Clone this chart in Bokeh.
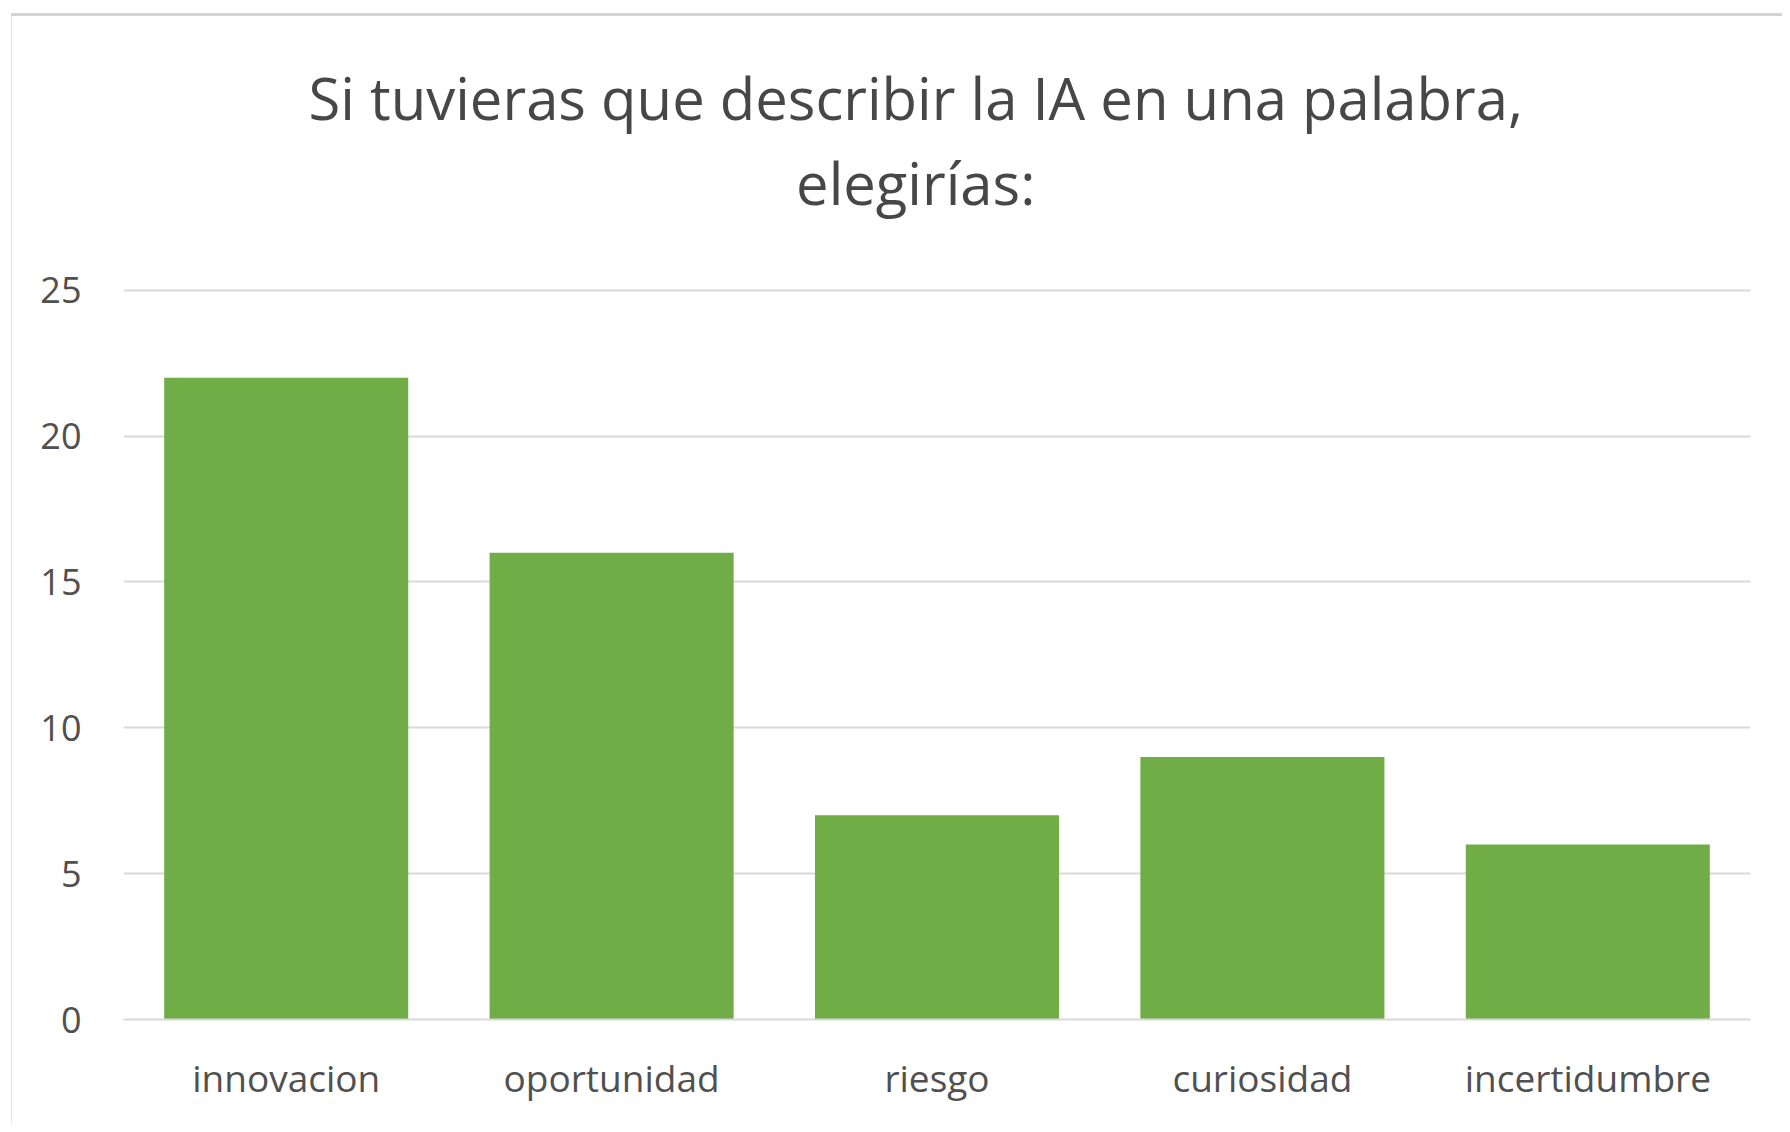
from bokeh.plotting import figure
from bokeh.models import ColumnDataSource, Range1d, FactorRange, Title, SingleIntervalTicker
from bokeh.embed import file_html
from bokeh.resources import INLINE

categories = ["innovacion", "oportunidad", "riesgo", "curiosidad", "incertidumbre"]
values = [22, 16, 7, 9, 6]
title_lines = ["Si tuvieras que describir la IA en una palabra,", "elegirías:"]

FONT = "Open Sans"
TEXT = "#505050"

src = ColumnDataSource(dict(cat=categories, val=values))

p = figure(
    x_range=FactorRange(*categories, range_padding=0),
    y_range=Range1d(0, 25.3),
    width=1771, height=1133,
    output_backend="svg", toolbar_location=None,
    min_border_left=112, min_border_right=32,
    min_border_top=290, min_border_bottom=105,
)
p.outline_line_color = None
p.border_fill_color = None
p.styles = {
    "margin-top": "-9px", "margin-left": "11px",
    "background": ("linear-gradient(#d4d4d4,#d4d4d4) 0 22px / 100% 3px no-repeat, "
                   "linear-gradient(#e2e2e2,#e2e2e2) 0 22px / 1px 100% no-repeat, #ffffff"),
}

p.vbar(x="cat", top="val", width=0.75, source=src, fill_color="#70AD47", line_color=None)

t = Title(text="\n".join(title_lines), align="left", text_align="center",
          text_font=FONT, text_font_size="58px", text_font_style="normal",
          text_color="#474747", text_line_height=1.076, standoff=118, offset=185)
p.add_layout(t, "above")

p.xgrid.grid_line_color = None
p.ygrid.grid_line_color = "#d9d9d9"
p.ygrid.grid_line_width = 2
p.yaxis.ticker = SingleIntervalTicker(interval=5)

p.yaxis.axis_line_color = None
p.yaxis.major_tick_line_color = None
p.yaxis.minor_tick_line_color = None
p.yaxis.major_tick_out = 0
p.yaxis.major_label_standoff = 38
p.yaxis.major_label_text_font = FONT
p.yaxis.major_label_text_font_size = "36px"
p.yaxis.major_label_text_color = TEXT

p.xaxis.axis_line_color = "#d9d9d9"
p.xaxis.axis_line_width = 2
p.xaxis.major_tick_line_color = None
p.xaxis.minor_tick_line_color = None
p.xaxis.major_tick_out = 0
p.xaxis.major_label_standoff = 32
p.xaxis.major_label_text_font = FONT
p.xaxis.major_label_text_font_size = "37px"
p.xaxis.major_label_text_color = TEXT

open("out.html", "w").write(file_html(p, INLINE))
